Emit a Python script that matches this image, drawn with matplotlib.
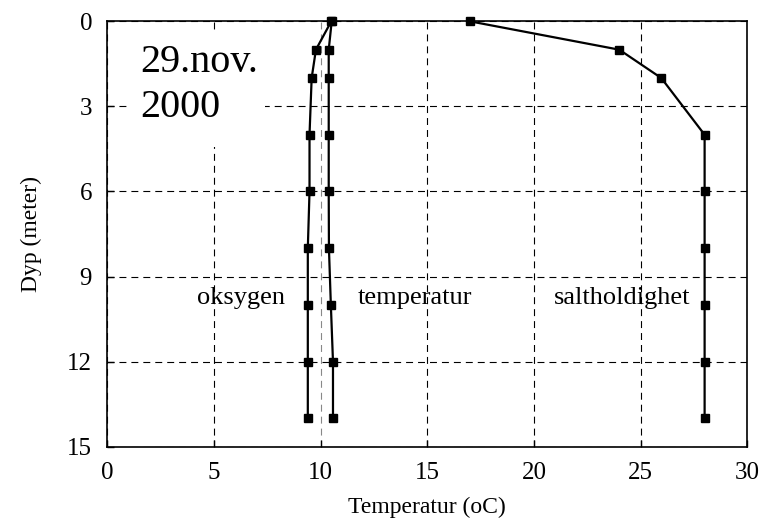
import matplotlib
matplotlib.use("Agg")
import matplotlib.pyplot as plt
from matplotlib.patches import Rectangle

depth = [0, 1, 2, 4, 6, 8, 10, 12, 14]
oksygen = [10.5, 9.78, 9.58, 9.48, 9.48, 9.4, 9.4, 9.4, 9.4]
temperatur = [10.52, 10.38, 10.38, 10.38, 10.38, 10.39, 10.48, 10.58, 10.58]
saltholdighet = [17.0, 24.0, 25.97, 28.0, 28.0, 28.0, 28.0, 28.0, 28.0]

xticks = [0, 5, 10, 15, 20, 25, 30]
yticks = [0, 3, 6, 9, 12, 15]

plt.rcParams['font.family'] = ['Liberation Serif', 'DejaVu Serif']
plt.rcParams['lines.scale_dashes'] = False

fig = plt.figure(figsize=(7.63, 5.24), dpi=100)
ax = fig.add_axes([0.1406, 0.1475, 0.9794 - 0.1406, 0.9593 - 0.1475])

ax.set_xlim(0, 30)
ax.set_ylim(15, 0)
ax.set_xticks(xticks)
ax.set_yticks(yticks)
ax.tick_params(direction='in', length=5, width=1, labelsize=18, pad=11)
ax.grid(True, color='black', linestyle=(0, (5, 3.6)), linewidth=0.8)
ax.xaxis.get_gridlines()[2].set_color('#888888')
for s in ax.spines.values():
    s.set_linewidth(1.2)
    s.set_zorder(5)

for series in (oksygen, temperatur, saltholdighet):
    ax.plot(series, depth, color='black', linewidth=1.6, marker='s',
            markersize=6, clip_on=False, zorder=4)

ax.text(6.29, 9.76, 'oksygen', fontsize=19, ha='center', va='center')
ax.text(14.43, 9.76, 'temperatur', fontsize=19, ha='center', va='center')
ax.text(24.12, 9.76, 'saltholdighet', fontsize=19, ha='center', va='center')

ax.add_patch(Rectangle((1.0, 0.45), 6.39, 3.98, facecolor='white',
                       edgecolor='none', zorder=2))
ax.text(1.56, 3.37, '29.nov.\n2000', fontsize=29, ha='left', va='baseline',
        linespacing=1.27, zorder=3)

ax.set_xlabel('Temperatur (oC)', fontsize=17, labelpad=9)
ax.set_ylabel('Dyp (meter)', fontsize=17, labelpad=18)

fig.savefig('out.png', dpi=100)
